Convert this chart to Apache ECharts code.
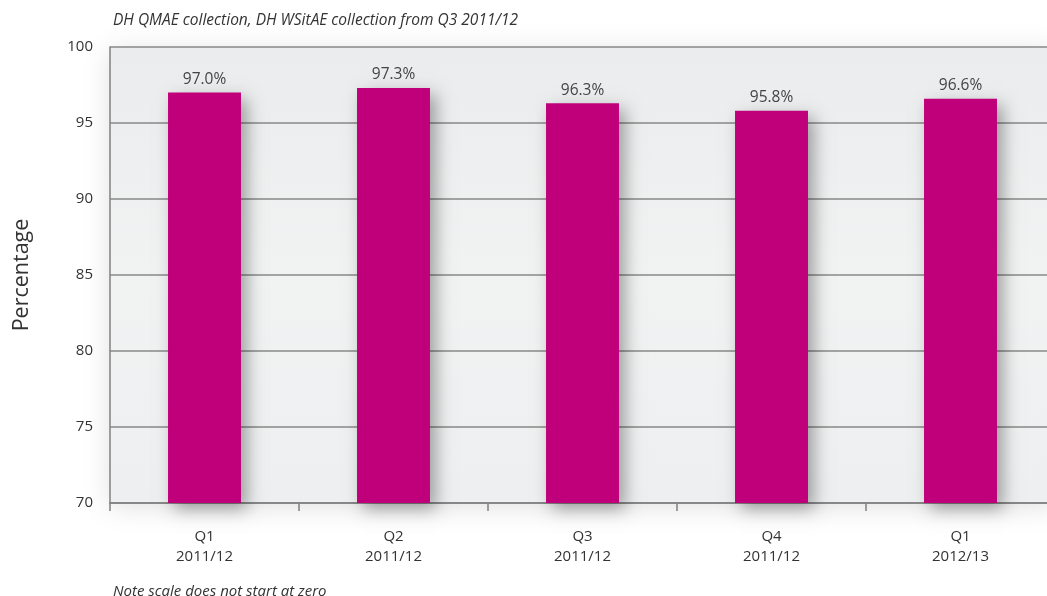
<!DOCTYPE html>
<html><head><meta charset="utf-8">
<script src="https://cdn.jsdelivr.net/npm/echarts@6/dist/echarts.min.js"></script>
<style>html,body{margin:0;padding:0;background:#fff;overflow:hidden}#c{width:1055px;height:596px}</style>
</head><body><div id="c"></div>
<script>
const categories = ['Q1\n2011/12', 'Q2\n2011/12', 'Q3\n2011/12', 'Q4\n2011/12', 'Q1\n2012/13'];
const values = [97.0, 97.3, 96.3, 95.8, 96.6];
const yTicks = [70, 75, 80, 85, 90, 95, 100];
const titleText = 'DH QMAE collection, DH WSitAE collection from Q3 2011/12';
const noteText = 'Note scale does not start at zero';
const ff = "'Open Sans', 'Noto Sans', sans-serif";
const chart = echarts.init(document.getElementById('c'));
chart.setOption({
  animation: false,
  textStyle: { fontFamily: ff },
  title: [
    { text: titleText, left: 108, top: 8, textStyle: { fontFamily: ff, fontStyle: 'italic', fontWeight: 'normal', fontSize: 15.5, color: '#333' } },
    { text: noteText, left: 108, top: 579, textStyle: { fontFamily: ff, fontStyle: 'italic', fontWeight: 'normal', fontSize: 15, color: '#333' } }
  ],
  grid: {
    left: 110, right: 0, top: 47, bottom: 93, show: true,
    backgroundColor: new echarts.graphic.LinearGradient(0, 0, 0, 1, [
      { offset: 0, color: '#EBECED' }, { offset: 0.5, color: '#F1F2F2' }, { offset: 1, color: '#EEEFF0' }
    ]),
    borderWidth: 0, shadowBlur: 25, shadowColor: 'rgba(0,0,0,0.12)', shadowOffsetY: 4
  },
  xAxis: {
    type: 'category', data: categories,
    axisLine: { lineStyle: { color: '#808080', width: 1.5 } },
    axisTick: { show: true, length: 8, lineStyle: { color: '#808080', width: 1.5 } },
    axisLabel: { color: '#333', fontSize: 15, lineHeight: 20, margin: 24, fontFamily: ff }
  },
  yAxis: {
    type: 'value', min: 70, max: 100, interval: 5,
    name: 'Percentage', nameLocation: 'middle', nameGap: 77,
    nameTextStyle: { fontSize: 21.5, color: '#333', fontFamily: ff },
    axisLine: { show: true, lineStyle: { color: '#808080', width: 1.5 } },
    axisTick: { show: false },
    splitLine: { lineStyle: { color: '#888', width: 1.5 } },
    axisLabel: { color: '#333', fontSize: 15, margin: 17, fontFamily: ff,
      formatter: v => yTicks.includes(v) ? String(v) : '' }
  },
  series: [{
    type: 'bar', data: values, barWidth: '38.6%',
    itemStyle: { color: '#C0007A', shadowBlur: 16, shadowColor: 'rgba(0,0,0,0.35)', shadowOffsetX: 6, shadowOffsetY: 6 },
    label: { show: true, position: 'top', distance: 5, color: '#444', fontSize: 15.5, fontFamily: ff,
      formatter: p => p.value.toFixed(1) + '%' }
  }]
});
</script></body></html>
